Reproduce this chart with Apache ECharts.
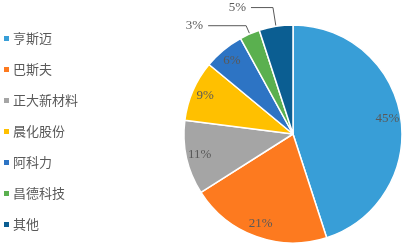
<!DOCTYPE html>
<html><head><meta charset="utf-8">
<script src="https://cdn.jsdelivr.net/npm/echarts@6/dist/echarts.min.js"></script>
<style>html,body{margin:0;padding:0;background:#fff}#c{width:403px;height:245px}</style>
</head><body><div id="c"></div>
<script>
const categories = ['亨斯迈','巴斯夫','正大新材料','晨化股份','阿科力','昌德科技','其他'];
const values = [45, 21, 11, 9, 6, 3, 5];
const colors = ['#389ED7','#FD7A1F','#A5A5A5','#FFC000','#2D74C4','#5AB04F','#0B5E92'];
const outsideIdx = [5, 6];
const leaderLen = {5: [9, 38], 6: [19, 22]};

const chart = echarts.init(document.getElementById('c'), null, {renderer: 'canvas'});
const labelFont = {fontFamily: '"Liberation Serif", "Times New Roman", serif', fontSize: 13, color: '#595959'};
const center = [293, 134];
const R = 109;

const baseData = categories.map((n, i) => {
  const d = {name: n, value: values[i], itemStyle: {color: colors[i]}};
  if (outsideIdx.includes(i)) {
    d.label = Object.assign({show: true, position: 'outside', formatter: '{c}%'}, labelFont);
    d.labelLine = {show: true, length: leaderLen[i][0], length2: leaderLen[i][1], smooth: false, lineStyle: {color: '#595959', width: 1}};
  } else {
    d.label = {show: false};
    d.labelLine = {show: false};
  }
  return d;
});
const ringData = categories.map((n, i) => ({
  name: n, value: values[i],
  itemStyle: {color: 'rgba(0,0,0,0)', borderWidth: 0},
  label: outsideIdx.includes(i) ? {show: false} : Object.assign({show: true, position: 'inside', formatter: '{c}%'}, labelFont)
}));

chart.setOption({
  animation: false,
  backgroundColor: '#fff',
  legend: {
    orient: 'vertical', left: 4, top: 32, padding: 0,
    icon: 'rect', itemWidth: 5, itemHeight: 5, itemGap: 18, itemStyle: {borderWidth: 0},
    textStyle: {fontFamily: '"Noto Sans CJK SC", sans-serif', fontSize: 13, color: '#595959', padding: [0, 0, 0, -1]},
    data: categories
  },
  series: [
    {
      type: 'pie', center: center, radius: [0, R], startAngle: 90, clockwise: true,
      itemStyle: {borderColor: '#fff', borderWidth: 1.5},
      data: baseData, emphasis: {disabled: true}
    },
    {
      type: 'pie', center: center, radius: [R * 0.7, R], startAngle: 90, clockwise: true,
      silent: true, legendHoverLink: false,
      data: ringData, emphasis: {disabled: true}
    }
  ]
});
</script></body></html>
